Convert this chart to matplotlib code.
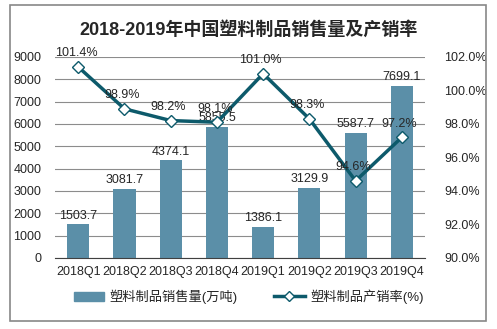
import numpy as np
import matplotlib.pyplot as plt
from matplotlib.lines import Line2D
from matplotlib.patches import Patch, Rectangle

plt.rcParams['font.family'] = ['Liberation Sans', 'Noto Sans CJK SC', 'DejaVu Sans']

# DATOS
quarters = ["2018Q1", "2018Q2", "2018Q3", "2018Q4", "2019Q1", "2019Q2", "2019Q3", "2019Q4"]
sales = [1503.7, 3081.7, 4374.1, 5855.5, 1386.1, 3129.9, 5587.7, 7699.1]
ratio = [101.4, 98.9, 98.2, 98.1, 101.0, 98.3, 94.6, 97.2]

title = "2018-2019年中国塑料制品销售量及产销率"
bar_label = "塑料制品销售量(万吨)"
line_label = "塑料制品产销率(%)"

bar_color = "#5b8fa8"
line_color = "#0d5a6b"
text_color = "#262626"

fig = plt.figure(figsize=(4.97, 3.29), dpi=100)
ax = fig.add_axes([0.111, 0.216, 0.744, 0.611])
ax2 = ax.twinx()

x = np.arange(len(quarters))
ax.bar(x, sales, width=0.48, color=bar_color, zorder=2)
for xi, v in zip(x, sales):
    ax.text(xi, v + 120, f"{v:.1f}", ha="center", va="bottom", fontsize=9, color=text_color, zorder=5)

ax2.plot(x, ratio, color=line_color, lw=2.5, marker="D", ms=6.5,
         markerfacecolor="white", markeredgecolor=line_color, markeredgewidth=1, zorder=4)
for xi, v in zip(x, ratio):
    ax2.text(xi - 0.05, v + 0.45, f"{v:.1f}%", ha="center", va="bottom", fontsize=9, color=text_color, zorder=5)

ax.set_xlim(-0.5, len(quarters) - 0.5)
ax.set_ylim(0, 9000)
ax.set_yticks(np.arange(0, 9001, 1000))
ax2.set_ylim(90, 102)
ax2.set_yticks(np.arange(90, 102.1, 2))
ax2.set_yticklabels([f"{t:.1f}%" for t in np.arange(90, 102.1, 2)])
ax.set_xticks(x)
ax.set_xticklabels(quarters)

ax.grid(axis="y", color="#8c8c8c", lw=0.8, zorder=0)
ax.set_axisbelow(True)
for a in (ax, ax2):
    for s in ["top", "right", "left"]:
        a.spines[s].set_visible(False)
    a.spines["bottom"].set_color("#404040")
    a.tick_params(length=0, labelsize=9, colors=text_color)
ax2.spines["bottom"].set_visible(False)
ax.tick_params(axis="y", pad=10)
ax.tick_params(axis="x", pad=6)
ax2.tick_params(axis="y", pad=14)

fig.suptitle(title, y=0.935, fontsize=13, fontweight="bold", color=text_color)

h = [Patch(color=bar_color, label=bar_label),
     Line2D([], [], color=line_color, lw=2.5, marker="D", ms=5,
            markerfacecolor="white", markeredgecolor=line_color, label=line_label)]
fig.legend(handles=h, loc="lower center", bbox_to_anchor=(0.5, 0.04), ncol=2,
           frameon=False, fontsize=9.5, handlelength=2.3, handletextpad=0.4,
           columnspacing=2.8, labelcolor=text_color)

fig.add_artist(Rectangle((0.02, 0.025), 0.958, 0.96, transform=fig.transFigure,
                         fill=False, edgecolor="#888888", lw=1.2))

plt.savefig("out.png", dpi=100)
